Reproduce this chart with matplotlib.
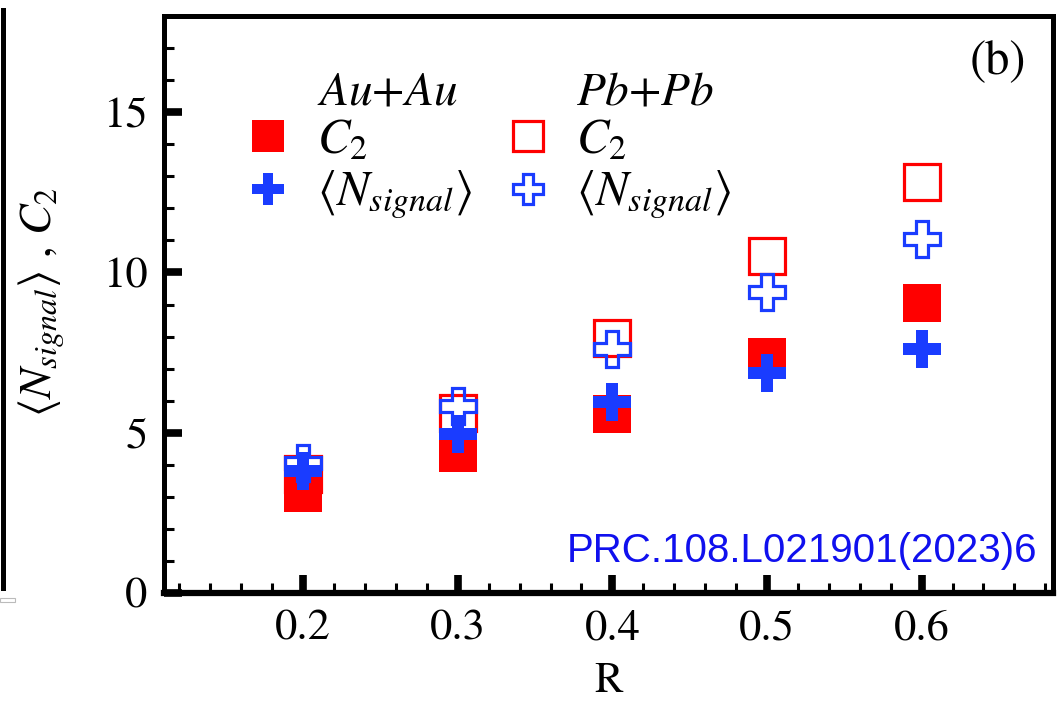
import matplotlib
matplotlib.use("Agg")
import matplotlib.pyplot as plt
from matplotlib.lines import Line2D
from matplotlib.patches import Rectangle
from matplotlib.ticker import MultipleLocator

plt.rcParams['font.family'] = ['STIXGeneral', 'DejaVu Serif']
plt.rcParams['mathtext.fontset'] = 'stix'

# ---- data ----
R = [0.2, 0.3, 0.4, 0.5, 0.6]
au_c2 = [3.13, 4.38, 5.59, 7.37, 9.05]
au_nsig = [3.80, 4.97, 5.97, 6.87, 7.60]
pb_c2 = [3.70, 5.62, 7.96, 10.50, 12.83]
pb_nsig = [4.06, 5.84, 7.62, 9.38, 11.03]

x_ticks = [0.2, 0.3, 0.4, 0.5, 0.6]
y_ticks = [0, 5, 10, 15]

RED = '#ff0000'
BLUE = '#1a3cff'

W, H = 1060, 704
fig = plt.figure(figsize=(W / 100, H / 100), dpi=100)
ax = fig.add_axes([164 / W, 1 - 593 / H, (1053 - 164) / W, (593 - 16) / H])

ms_f = 27.5
ms_o = 25.5
mew_o = 2.3
ax.plot(R, au_c2, linestyle='none', marker='s', ms=ms_f, mfc=RED, mec=RED, mew=0, zorder=3)
ax.plot(R, pb_c2, linestyle='none', marker='s', ms=ms_o, mfc='none', mec=RED, mew=mew_o, zorder=4)
ax.plot(R, au_nsig, linestyle='none', marker='P', ms=ms_f, mfc=BLUE, mec=BLUE, mew=0, zorder=5)
ax.plot(R, pb_nsig, linestyle='none', marker='P', ms=ms_o, mfc='none', mec=BLUE, mew=mew_o, zorder=6)

ax.set_xlim(0.11, 0.685)
ax.set_ylim(0, 18)
ax.set_xticks(x_ticks)
ax.set_xticklabels([f"{v:.1f}" for v in x_ticks])
ax.set_yticks(y_ticks)
ax.xaxis.set_minor_locator(MultipleLocator(0.02))
ax.yaxis.set_minor_locator(MultipleLocator(1))
ax.tick_params(which='major', direction='in', length=13, width=5.5, labelsize=32,
               top=False, right=False)
ax.tick_params(axis='x', which='major', pad=12)
ax.tick_params(axis='y', which='major', pad=12)
ax.tick_params(which='minor', direction='in', length=7, width=2.2, top=False, right=False)
for s in ax.spines.values():
    s.set_linewidth(3.6)
ax.spines['bottom'].set_linewidth(4.5)

ax.set_xlabel('R', fontsize=31, labelpad=10)
ax.set_ylabel(r'$\langle N_{signal}\rangle$ , $C_2$', fontsize=33, va='center')
ax.yaxis.set_label_coords(42 / W, 1 - 302 / H, transform=fig.transFigure)

# legend
blank = Line2D([], [], linestyle='none', marker='None')
h_au_c2 = Line2D([], [], linestyle='none', marker='s', ms=ms_f, mfc=RED, mec=RED, mew=0)
h_au_n = Line2D([], [], linestyle='none', marker='P', ms=ms_f, mfc=BLUE, mec=BLUE, mew=0)
h_pb_c2 = Line2D([], [], linestyle='none', marker='s', ms=ms_o, mfc='none', mec=RED, mew=mew_o)
h_pb_n = Line2D([], [], linestyle='none', marker='P', ms=ms_o, mfc='none', mec=BLUE, mew=mew_o)
handles = [blank, h_au_c2, h_au_n, blank, h_pb_c2, h_pb_n]
labels = [r'$Au$+$Au$', r'$C_2$', r'$\langle N_{signal}\rangle$',
          r'$Pb$+$Pb$', r'$C_2$', r'$\langle N_{signal}\rangle$']
fs_leg = 35
leg = ax.legend(handles, labels, ncol=2, frameon=False, fontsize=fs_leg,
                loc='upper left', bbox_to_anchor=(244 / W, 1 - 70 / H),
                bbox_transform=fig.transFigure, borderpad=0, borderaxespad=0,
                handlelength=1.0, handletextpad=0.5, columnspacing=0.65,
                labelspacing=0.1, markerscale=0.86)
for i in (0, 3):
    leg.get_texts()[i].set_fontsize(34)

ax.text(998 / W, 1 - 63 / H, '(b)', transform=fig.transFigure, ha='center', va='center',
        fontsize=35)

fig.text(1037 / W, 1 - 562 / H, 'PRC.108.L021901(2023)6', color='#1010ee',
         fontsize=29, family='Liberation Sans', ha='right', va='baseline')

# neighbouring panel edge on the left
fig.add_artist(Line2D([2.5 / W, 2.5 / W], [1 - 10 / H, 1 - 588 / H], color='black',
                      linewidth=3.6, transform=fig.transFigure))
fig.add_artist(Rectangle((0, 1 - 602 / H), 15 / W, 4 / H, transform=fig.transFigure,
                         facecolor='none', edgecolor='#bbbbbb', linewidth=0.8))

fig.savefig('out.png', dpi=100)
